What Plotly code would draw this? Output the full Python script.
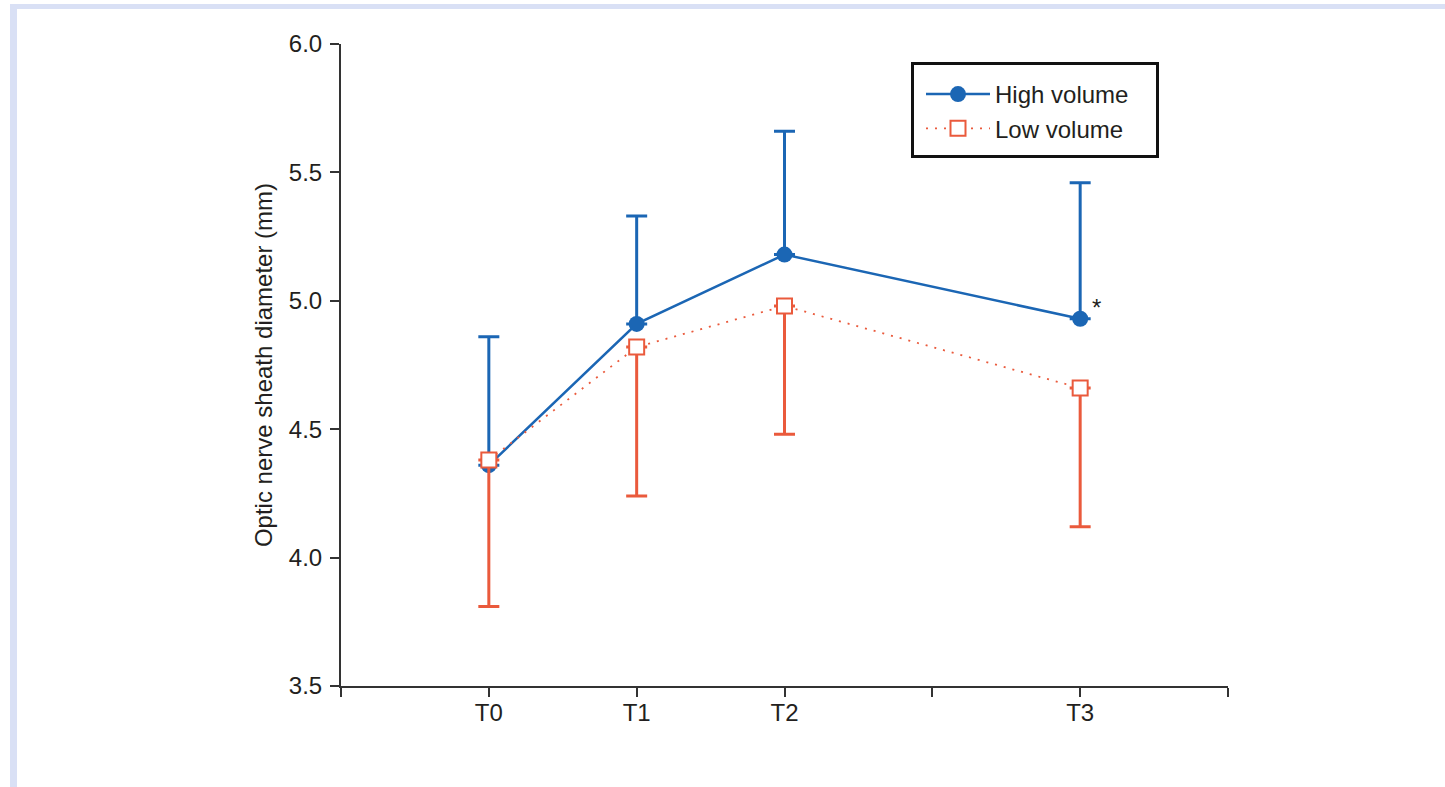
import plotly.graph_objects as go

# Data
times = ["T0", "T1", "T2", "T3"]
time_pos = [1, 2, 3, 5]
high_mean = [4.36, 4.91, 5.18, 4.93]
high_upper_err = [0.50, 0.42, 0.48, 0.53]   # tops: 4.86, 5.33, 5.66, 5.46
low_mean = [4.38, 4.82, 4.98, 4.66]
low_lower_err = [0.57, 0.58, 0.50, 0.54]    # bottoms: 3.81, 4.24, 4.48, 4.12
y_ticks = [3.5, 4.0, 4.5, 5.0, 5.5, 6.0]

BLUE = "#1b66b4"
RED = "#ea5a3c"
INK = "#231f20"
FONT = "Liberation Sans, Arial, sans-serif"
FS = 24

fig = go.Figure()

fig.add_trace(go.Scatter(
    x=time_pos, y=high_mean, name="High volume",
    mode="lines+markers",
    line=dict(color=BLUE, width=2.5),
    marker=dict(symbol="circle", size=16, color=BLUE),
    error_y=dict(type="data", symmetric=False, array=high_upper_err,
                 arrayminus=[0] * len(high_mean), color=BLUE,
                 thickness=3, width=10.5),
))

fig.add_trace(go.Scatter(
    x=time_pos, y=low_mean, name="Low volume",
    mode="lines+markers",
    line=dict(color=RED, width=1.8, dash="2px,7px"),
    marker=dict(symbol="square", size=15, color="white",
                line=dict(color=RED, width=2)),
    error_y=dict(type="data", symmetric=False, array=[0] * len(low_mean),
                 arrayminus=low_lower_err, color=RED,
                 thickness=3, width=10.5),
))

# significance asterisk next to high volume at T3
fig.add_annotation(x=time_pos[3] + 0.11, y=high_mean[3] + 0.045, text="*",
                   showarrow=False, font=dict(size=FS, color=INK, family=FONT))

tickvals = list(range(0, 7))
ticktext = [times[time_pos.index(v)] if v in time_pos else "" for v in tickvals]

W, H = 887.0, 642.0  # plot area in px

fig.update_layout(
    width=1445, height=787,
    paper_bgcolor="white", plot_bgcolor="white",
    margin=dict(l=341, r=217, t=44, b=101, autoexpand=False),
    font=dict(family=FONT, size=FS, color=INK),
    showlegend=True,
    legend=dict(x=(921 - 341) / W, y=1 - (72 - 44) / H, xanchor="left", yanchor="top",
                bgcolor="rgba(0,0,0,0)", borderwidth=0,
                font=dict(size=FS, family=FONT, color=INK),
                itemwidth=64, tracegroupgap=0),
    xaxis=dict(range=[0, 6], tickvals=tickvals, ticktext=ticktext,
               showgrid=False, zeroline=False, showline=True,
               linecolor="#333333", linewidth=2, ticks="outside",
               ticklen=9, tickwidth=2, tickcolor="#333333",
               ticklabelstandoff=-5,
               tickfont=dict(size=FS, family=FONT, color=INK)),
    yaxis=dict(range=[3.5, 6.0], tickvals=y_ticks,
               tickformat=".1f", showgrid=False, zeroline=False,
               showline=True, linecolor="#333333", linewidth=2,
               ticks="outside", ticklen=9, tickwidth=2, tickcolor="#333333",
               ticklabelstandoff=3,
               tickfont=dict(size=FS, family=FONT, color=INK),
               title=dict(text="Optic nerve sheath diameter (mm)",
                          font=dict(size=FS, family=FONT, color=INK),
                          standoff=9)),
)

# legend frame
fig.add_shape(type="rect", xref="paper", yref="paper",
              x0=(912.5 - 341) / W, x1=(1157.5 - 341) / W,
              y0=1 - (156.5 - 44) / H, y1=1 - (63.5 - 44) / H,
              fillcolor="white", line=dict(color="#111111", width=3), layer="above")

# page frame strips (light blue)
fig.add_shape(type="rect", xref="paper", yref="paper",
              x0=-331 / W, x1=-324 / W, y0=-101 / H, y1=1 + 40 / H,
              fillcolor="#d9e0f5", line=dict(width=0), layer="below")
fig.add_shape(type="rect", xref="paper", yref="paper",
              x0=-331 / W, x1=1 + 217 / W, y0=1 + 35 / H, y1=1 + 40 / H,
              fillcolor="#d9e0f5", line=dict(width=0), layer="below")

fig.write_html("out.html", config={"displayModeBar": False},
               post_script="document.body.style.margin='0';document.body.style.overflow='hidden';")
